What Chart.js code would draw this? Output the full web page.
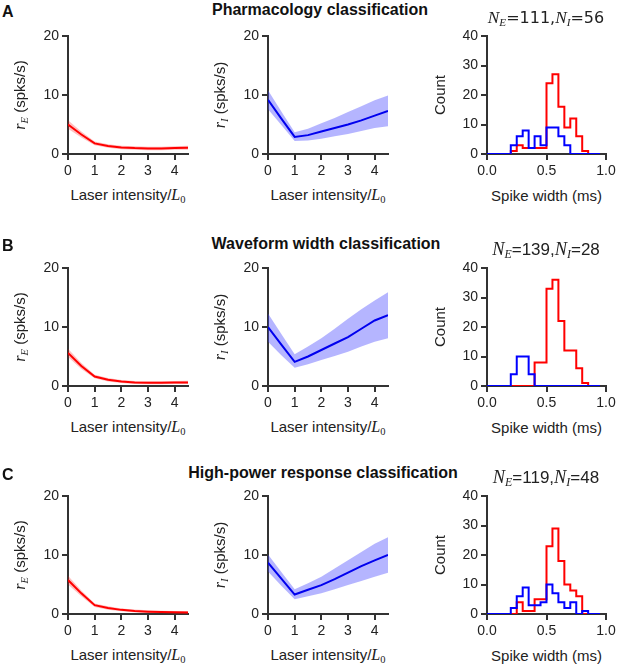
<!DOCTYPE html>
<html>
<head>
<meta charset="utf-8">
<script src="https://cdn.jsdelivr.net/npm/chart.js@4.4.1/dist/chart.umd.min.js"></script>
<style>
  body { margin: 0; background: #fff; }
  #fig { position: relative; width: 618px; height: 670px; overflow: hidden;
         font-family: "Liberation Sans", Arial, sans-serif; color: #222; }
  #fig canvas { position: absolute; }
  .t { position: absolute; white-space: nowrap; transform: translate(-50%, -50%); font-size: 15px; }
  .head { font-weight: bold; font-size: 16px; color: #111; }
  .letter { font-weight: bold; font-size: 16px; color: #111; transform: translate(0, -50%); }
  .ylab { transform: translate(-50%, -50%) rotate(-90deg); }
  .nlab { font-size: 17px; }
  .nlab.dv { font-family: "DejaVu Sans", sans-serif; font-size: 16px; }
  .m { font-family: "Liberation Serif", "DejaVu Serif", serif; font-style: italic; font-size: 1.08em; }
  .sub { font-size: 0.7em; vertical-align: -0.3em; line-height: 0; }
  .up { font-family: "Liberation Serif", "DejaVu Serif", serif; }
</style>
</head>
<body>
<div id="fig"></div>
<script>
// x values of the rate curves and tick labels
const laser = [0, 0.5, 1, 1.5, 2, 2.5, 3, 3.5, 4, 4.5];
const laserTicks = [0, 1, 2, 3, 4];
const rateTicks = [0, 10, 20];

// A: pharmacology
const rE_A = [5.0, 3.3, 1.8, 1.35, 1.1, 1.0, 0.95, 0.95, 1.0, 1.05];
const rE_A_hi = [5.7, 3.8, 2.1, 1.65, 1.4, 1.3, 1.25, 1.25, 1.3, 1.4];
const rE_A_lo = [4.3, 2.8, 1.5, 1.05, 0.8, 0.7, 0.65, 0.65, 0.7, 0.7];
const rI_A = [9.2, 6.0, 2.9, 3.2, 3.8, 4.4, 5.0, 5.7, 6.5, 7.3];
const rI_A_hi = [10.8, 7.2, 3.7, 4.3, 5.2, 6.1, 7.1, 8.1, 9.1, 9.9];
const rI_A_lo = [7.6, 4.9, 2.2, 2.3, 2.6, 3.0, 3.4, 3.9, 4.4, 4.7];

// B: waveform width
const rE_B = [5.6, 3.4, 1.6, 1.05, 0.75, 0.6, 0.55, 0.55, 0.6, 0.6];
const rE_B_hi = [6.3, 3.9, 1.9, 1.35, 1.0, 0.85, 0.8, 0.8, 0.85, 0.9];
const rE_B_lo = [4.9, 2.9, 1.3, 0.75, 0.5, 0.35, 0.3, 0.3, 0.35, 0.35];
const rI_B = [10.0, 7.0, 4.1, 5.0, 6.1, 7.2, 8.3, 9.7, 11.1, 12.0];
const rI_B_hi = [12.3, 8.8, 5.4, 6.7, 8.1, 9.7, 11.4, 13.0, 14.5, 15.9];
const rI_B_lo = [7.5, 5.2, 3.1, 3.7, 4.4, 5.1, 5.8, 6.7, 7.5, 8.1];

// C: high-power response
const rE_C = [5.75, 3.5, 1.5, 1.0, 0.7, 0.5, 0.4, 0.33, 0.28, 0.25];
const rE_C_hi = [6.5, 4.0, 1.8, 1.3, 0.95, 0.75, 0.62, 0.55, 0.5, 0.5];
const rE_C_lo = [5.0, 3.0, 1.2, 0.7, 0.45, 0.28, 0.2, 0.12, 0.08, 0.05];
const rI_C = [8.7, 6.0, 3.3, 4.1, 4.9, 5.9, 7.0, 8.1, 9.1, 10.0];
const rI_C_hi = [10.1, 7.1, 4.2, 5.2, 6.3, 7.7, 9.1, 10.5, 11.9, 13.0];
const rI_C_lo = [7.2, 4.8, 2.5, 3.0, 3.5, 4.2, 4.9, 5.6, 6.3, 7.0];

// spike width histograms (left bin edges, ms)
const binEdges = [0, 0.05, 0.1, 0.15, 0.2, 0.25, 0.3, 0.35, 0.4, 0.45, 0.5, 0.55, 0.6, 0.65, 0.7, 0.75, 0.8, 0.85, 0.9];
const binEnd = 0.95;
const widthTicks = [0, 0.5, 1];
const countTicks = [0, 10, 20, 30, 40];
const histE_A = [0, 0, 0, 0, 1, 3, 2, 2, 2, 2, 24, 27, 16, 9, 12, 6, 1, 0, 0];
const histI_A = [0, 0, 0, 0, 3, 6, 8, 2, 6, 3, 9, 9, 6, 3, 0, 0, 0, 0, 0];
const histE_B = [0, 0, 0, 0, 0, 0, 0, 0, 8, 8, 33, 36, 22, 12, 12, 6, 1, 0, 0];
const histI_B = [0, 0, 0, 0, 4, 10, 10, 4, 0, 0, 0, 0, 0, 0, 0, 0, 0, 0, 0];
const histE_C = [0, 0, 0, 0, 0, 4, 1, 1, 5, 5, 23, 29, 18, 10, 8, 6, 0, 0, 0];
const histI_C = [0, 0, 0, 0, 2, 6, 9, 3, 3, 4, 10, 7, 4, 2, 4, 0, 1, 0, 0];

const rowTitles = ['Pharmacology classification', 'Waveform width classification', 'High-power response classification'];
const rowLetters = ['A', 'B', 'C'];
const nE = [111, 139, 119];
const nI = [56, 28, 48];

// plot-area boxes (px) for the three columns and rows
const cols = [[68, 188], [268, 388], [487, 606]];
const rows = [[36, 154], [268, 386], [496, 614]];
const titleY = [10, 244, 473];
const titleX = [320, 326, 323];
const nLabY = [18, 249, 477];

const YW = 40, XH = 30, PT = 12, PR = 14;
const fig = document.getElementById('fig');

function addText(html, x, y, cls) {
  const d = document.createElement('div');
  d.className = 't ' + (cls || '');
  d.style.left = x + 'px';
  d.style.top = y + 'px';
  d.innerHTML = html;
  fig.appendChild(d);
}

function addCanvas(col, row) {
  const [l, r] = cols[col], [t, b] = rows[row];
  const c = document.createElement('canvas');
  c.width = (r - l) + YW + PR;
  c.height = (b - t) + PT + XH;
  c.style.left = (l - YW) + 'px';
  c.style.top = (t - PT) + 'px';
  fig.appendChild(c);
  return c;
}

function axis(min, max, ticks, fmt, isY) {
  return {
    type: 'linear', min: min, max: max,
    afterBuildTicks: s => { s.ticks = ticks.map(v => ({value: v})); },
    afterFit: s => { if (isY) s.width = YW; else s.height = XH; },
    border: {display: true, color: '#333', width: 2},
    grid: {drawOnChartArea: false, drawTicks: true, tickLength: 6, color: '#333', lineWidth: 2},
    ticks: {color: '#222', font: {size: 14, family: 'Liberation Sans'}, padding: 3,
            autoSkip: false, maxRotation: 0, callback: fmt}
  };
}

function baseOptions(xs, ys) {
  return {
    responsive: false, animation: false,
    layout: {padding: {top: PT, right: PR, left: 0, bottom: 0}},
    plugins: {legend: {display: false}, tooltip: {enabled: false}},
    scales: {x: xs, y: ys}
  };
}

const pts = (xs, ys) => ys.map((v, i) => ({x: xs[i], y: v}));

function ratePanel(col, row, mean, hi, lo, color, band) {
  new Chart(addCanvas(col, row), {
    type: 'line',
    data: {datasets: [
      {data: pts(laser, mean), borderColor: color, borderWidth: 2, pointRadius: 0, fill: false},
      {data: pts(laser, hi), borderColor: 'rgba(0,0,0,0)', borderWidth: 1, pointRadius: 0, backgroundColor: band, fill: '+1'},
      {data: pts(laser, lo), borderColor: 'rgba(0,0,0,0)', borderWidth: 1, pointRadius: 0, fill: false}
    ]},
    options: baseOptions(axis(0, 4.5, laserTicks, v => v, false), axis(0, 20, rateTicks, v => v, true))
  });
}

function histPanel(row, eCounts, iCounts) {
  const steps = counts => pts(binEdges, counts).concat([{x: binEnd, y: 0}]);
  new Chart(addCanvas(2, row), {
    type: 'line',
    data: {datasets: [
      {data: steps(iCounts), borderColor: '#0000ff', borderWidth: 2, pointRadius: 0, stepped: true, fill: false},
      {data: steps(eCounts), borderColor: '#ff0000', borderWidth: 2, pointRadius: 0, stepped: true, fill: false}
    ]},
    options: baseOptions(axis(0, 1, widthTicks, v => v.toFixed(1), false), axis(0, 40, countTicks, v => v, true))
  });
}

ratePanel(0, 0, rE_A, rE_A_hi, rE_A_lo, '#ff0000', 'rgba(255,0,0,0.25)');
ratePanel(1, 0, rI_A, rI_A_hi, rI_A_lo, '#0000ee', 'rgba(60,60,255,0.38)');
histPanel(0, histE_A, histI_A);
ratePanel(0, 1, rE_B, rE_B_hi, rE_B_lo, '#ff0000', 'rgba(255,0,0,0.25)');
ratePanel(1, 1, rI_B, rI_B_hi, rI_B_lo, '#0000ee', 'rgba(60,60,255,0.38)');
histPanel(1, histE_B, histI_B);
ratePanel(0, 2, rE_C, rE_C_hi, rE_C_lo, '#ff0000', 'rgba(255,0,0,0.25)');
ratePanel(1, 2, rI_C, rI_C_hi, rI_C_lo, '#0000ee', 'rgba(60,60,255,0.38)');
histPanel(2, histE_C, histI_C);

// titles and axis labels
const laserLab = 'Laser intensity/<span class="m">L</span><span class="sub up">0</span>';
for (let k = 0; k < 3; k++) {
  const [t, b] = rows[k];
  const midY = (t + b) / 2;
  addText(rowLetters[k], 2, titleY[k] + 2, 'letter');
  addText(rowTitles[k], titleX[k], titleY[k], 'head');
  addText('<span class="m">N</span><span class="m sub">E</span>=' + nE[k] + ',<span class="m">N</span><span class="m sub">I</span>=' + nI[k],
          546, nLabY[k], k === 0 ? 'nlab dv' : 'nlab');
  addText('<span class="m">r</span><span class="m sub">E</span> (spks/s)', 20, midY, 'ylab');
  addText('<span class="m">r</span><span class="m sub">I</span> (spks/s)', 220, midY, 'ylab');
  addText('Count', 439, midY, 'ylab');
  addText(laserLab, (cols[0][0] + cols[0][1]) / 2, b + 41);
  addText(laserLab, (cols[1][0] + cols[1][1]) / 2, b + 41);
  addText('Spike width (ms)', (cols[2][0] + cols[2][1]) / 2, b + 41);
}
</script>
</body>
</html>
